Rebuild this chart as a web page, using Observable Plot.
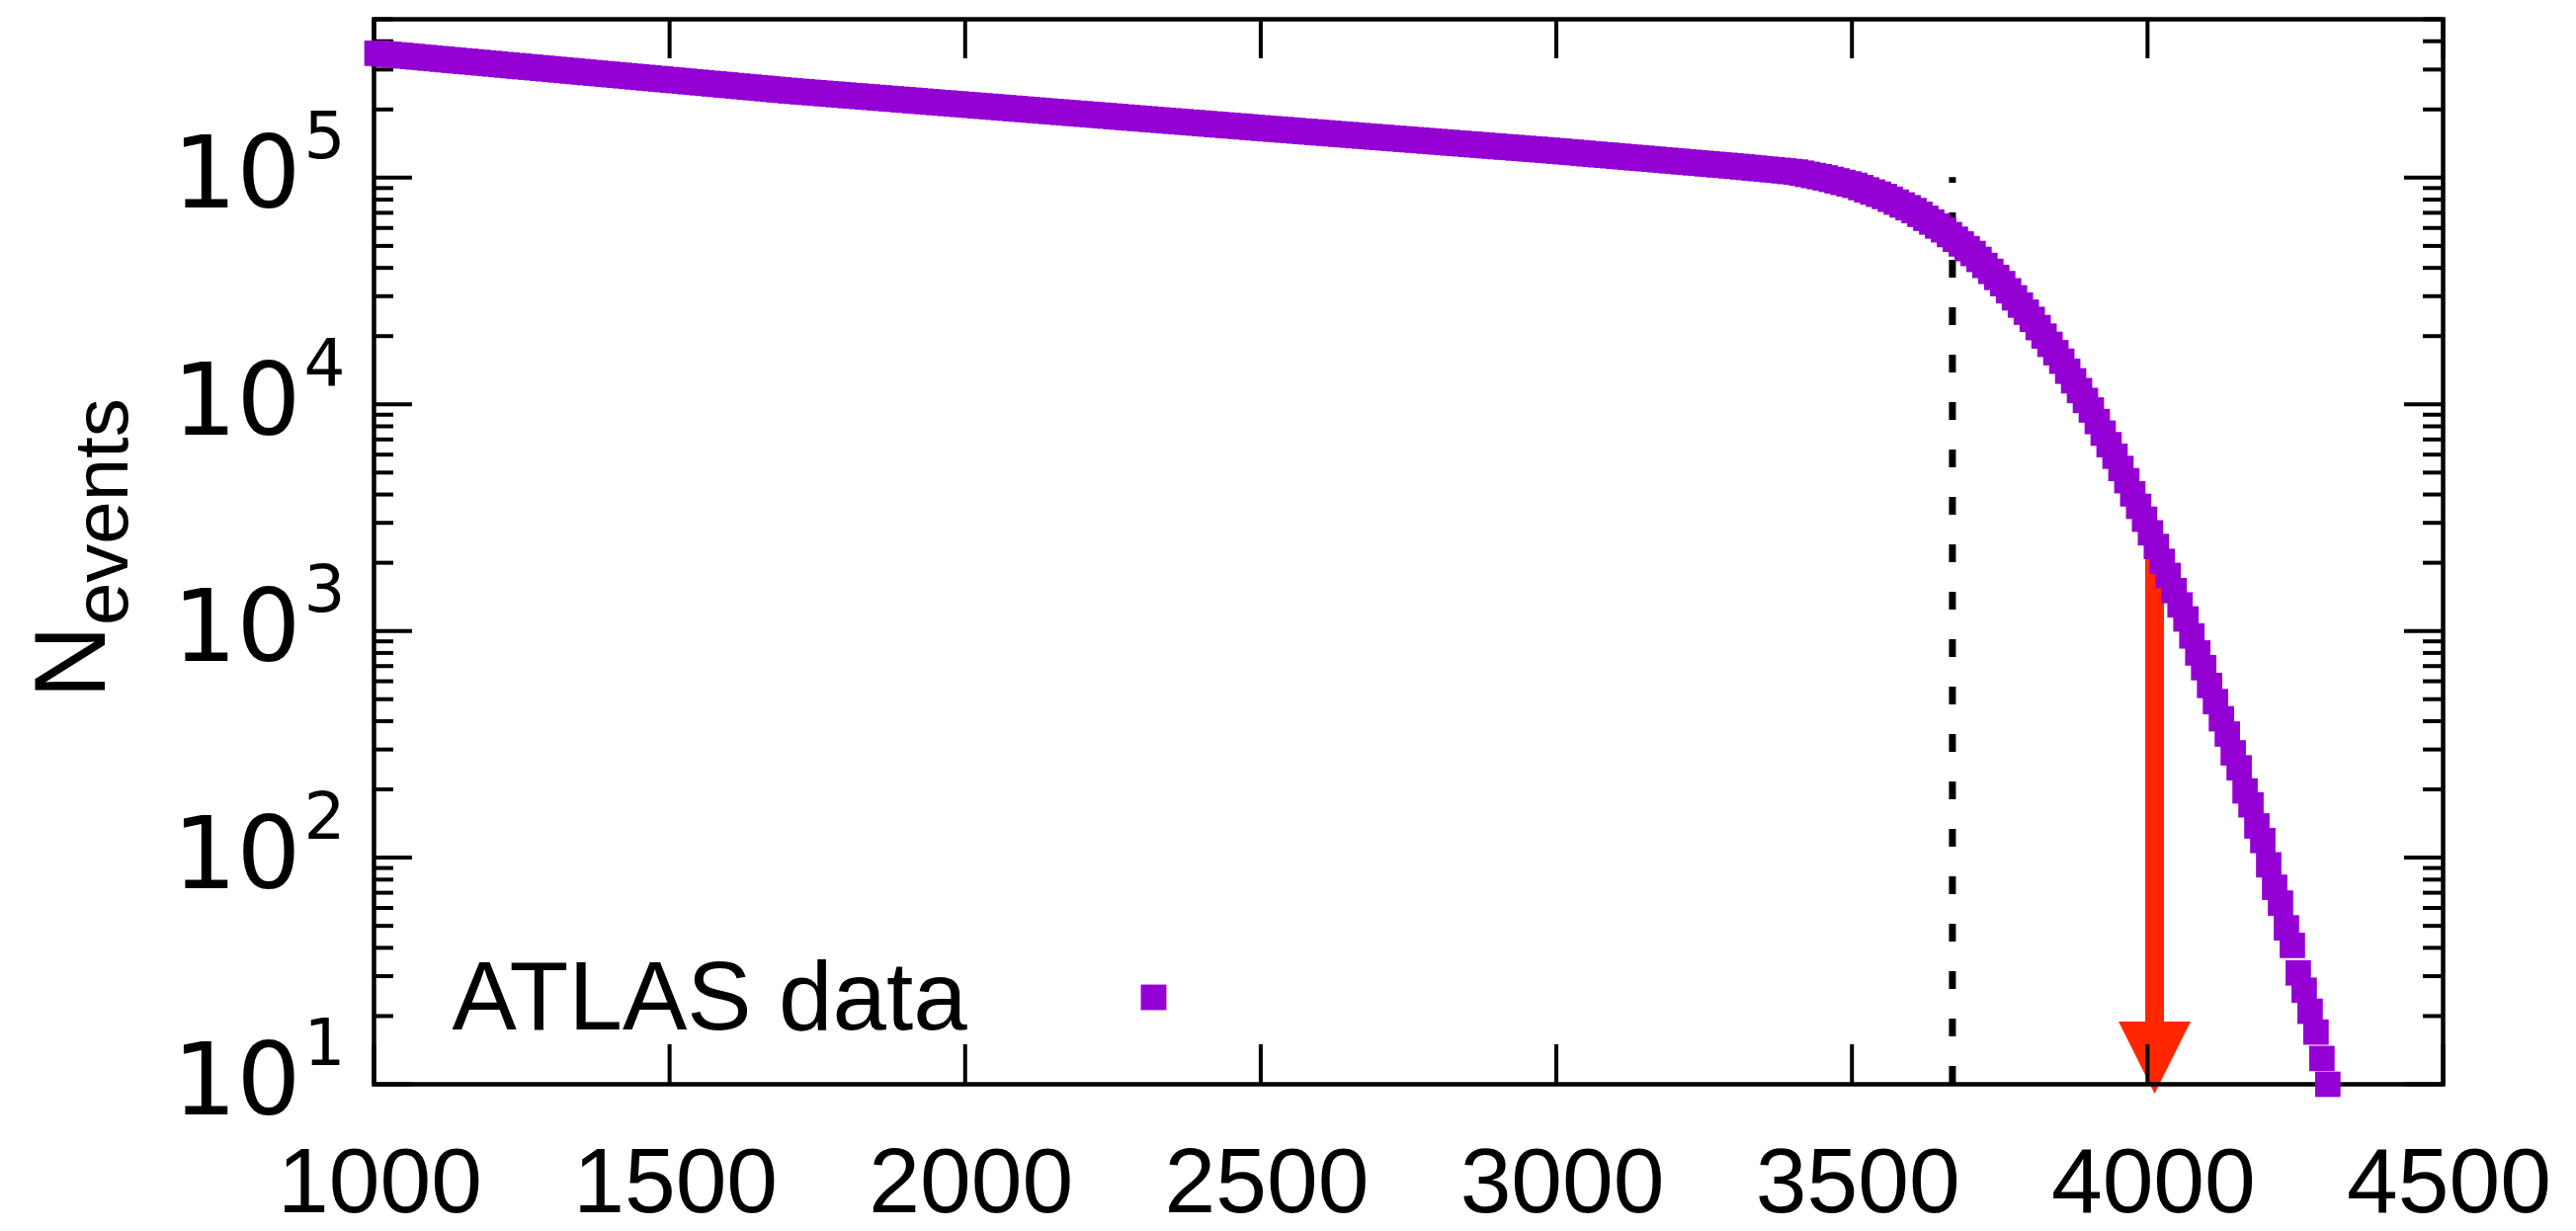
<!DOCTYPE html>
<html>
<head>
<meta charset="utf-8">
<script src="https://cdn.jsdelivr.net/npm/d3@7"></script>
<script src="https://cdn.jsdelivr.net/npm/@observablehq/plot@0.6"></script>
<style>
  html, body { margin: 0; padding: 0; background: #ffffff; }
  #chart svg { display: block; }
</style>
</head>
<body>
<div id="chart"></div>
<script>
// ---- data ----
// bin centres of the mass threshold (GeV), 10 GeV bins from 1005 to 4305
const binCenters = d3.range(1005, 4306, 10);
// number of events per bin centre
const nEvents = [
  354000, 352100, 350200, 348200, 346400, 344500, 342600, 340700, 338900, 337000,
  335200, 333400, 331500, 329700, 327900, 326200, 324400, 322600, 320900, 319100,
  317400, 315600, 313900, 312200, 310500, 308800, 307100, 305500, 303800, 302200,
  300500, 298900, 297200, 295600, 294000, 292400, 290800, 289200, 287700, 286100,
  284500, 283000, 281500, 279900, 278400, 276900, 275400, 273900, 272400, 270900,
  269400, 268000, 266500, 265000, 263600, 262200, 260700, 259300, 257900, 256500,
  255100, 253700, 252300, 251000, 249600, 248200, 246900, 245500, 244200, 242900,
  241500,
  240400, 239300, 238100, 237000, 235900, 234800, 233700, 232500, 231400, 230300,
  229300, 228200, 227100, 226000, 224900, 223900, 222800, 221800, 220700, 219700,
  218600, 217600, 216600, 215500, 214500, 213500, 212500, 211500, 210500, 209500,
  208500, 207500, 206500, 205500, 204600, 203600, 202600, 201700, 200700, 199800,
  198800, 197900, 196900, 196000, 195100, 194100, 193200, 192300, 191400, 190500,
  189600, 188700, 187800, 186900, 186000, 185100, 184300, 183400, 182500, 181700,
  180800, 179900, 179100, 178200, 177400, 176600, 175700, 174900, 174100, 173200,
  172400, 171600, 170800, 170000, 169200, 168400, 167600, 166800, 166000, 165200,
  164400, 163700, 162900, 162200, 161400, 160600, 159900, 159200, 158400, 157700,
  157000, 156200, 155500, 154800, 154100, 153300, 152600, 151900, 151200, 150500,
  149800, 149100, 148400, 147700, 147100, 146400, 145700, 145000, 144300, 143700,
  143000, 142300, 141700, 141000, 140400, 139700, 139100, 138400, 137800, 137100,
  136500, 135900, 135200, 134600, 134000, 133400, 132800, 132100, 131500,
  130900, 130200, 129500, 128900, 128200, 127500, 126900, 126200, 125600, 125000,
  124300, 123700, 123000, 122400, 121800, 121200, 120600, 119900, 119300, 118700,
  118100, 117500, 116900, 116300, 115700, 115100, 114500, 113900, 113400, 112800,
  112200,
  111600, 110900, 110300, 109600, 109000, 108400, 107800, 107200, 106500, 105900,
  104700, 103400, 102200, 101000, 99800, 98300, 96800, 95300, 93900, 92500,
  90400, 88400, 86400, 84500, 82600, 80300, 78000, 75800, 73700, 71600,
  68900, 66200, 63700, 61200, 58900, 56100, 53500, 51000, 48600, 46300,
  43600, 41000, 38600, 36300, 34100, 31700, 29500, 27400, 25500, 23700,
  21800, 20000, 18400, 16900, 15500, 14000, 12700, 11500, 10400, 9441,
  8395, 7464, 6637, 5902,
  5212, 4603, 4027, 3548, 3112, 2710, 2360, 2028, 1758, 1507,
  1303, 1130, 951, 800, 689, 575, 488, 410, 351, 290,
  249, 197, 171, 138, 119, 93, 74, 63, 49, 41,
  31, 26, 21, 17, 13, 10
];
const xTicks = [1000, 1500, 2000, 2500, 3000, 3500, 4000, 4500];
const yMajor = [10, 100, 1000, 10000, 100000];
const yMinor = [
  20, 30, 40, 50, 60, 70, 80, 90,
  200, 300, 400, 500, 600, 700, 800, 900,
  2000, 3000, 4000, 5000, 6000, 7000, 8000, 9000,
  20000, 30000, 40000, 50000, 60000, 70000, 80000, 90000,
  200000, 300000, 400000, 500000
];
const cutMass = [3670];          // dashed vertical line
const cutRange = [10, 100000];    // its extent in N
const limitMass = [4012];        // red arrow position
const arrowRange = [2400, 18.8, 9.1]; // shaft top, head base, tip (N)
const legendLabel = ["ATLAS data"];
const yTitle = ["N", "events"];

// ---- layout / style ----
const W = 2607, H = 1246;
const mL = 378, mR = 135, mT = 19, mB = 149;
const frameW = W - mL - mR, frameH = H - mT - mB;
const purple = "#9400d3";
const red = "#ff2600";
const font = "'Liberation Sans', Arial, Helvetica, sans-serif";
const yLabelFont = "'DejaVu Sans', 'Liberation Sans', sans-serif";

const points = binCenters.map((m, i) => ({m, n: nEvents[i]}));

// downward triangle with its tip at the anchor point
const headSymbol = {
  draw(context) {
    context.moveTo(-36.5, -73);
    context.lineTo(36.5, -73);
    context.lineTo(0, 0);
    context.closePath();
  }
};

const tickStyle = {stroke: "black", strokeWidth: 4};

const plot = Plot.plot({
  width: W,
  height: H,
  marginLeft: mL,
  marginRight: mR,
  marginTop: mT,
  marginBottom: mB,
  style: {fontFamily: font, background: "white", maxWidth: "none", overflow: "visible"},
  x: {domain: [1000, 4500]},
  y: {type: "log", domain: [10, 500000]},
  marks: [
    // dashed line
    Plot.ruleX(cutMass, {y1: cutRange[0], y2: cutRange[1], stroke: "black", strokeWidth: 7, strokeDasharray: "18,30"}),
    // red arrow
    Plot.ruleX(limitMass, {y1: arrowRange[0], y2: arrowRange[1], stroke: red, strokeWidth: 19}),
    Plot.dot(limitMass, {x: d => d, y: arrowRange[2], symbol: headSymbol, fill: red}),
    // frame
    Plot.frame({stroke: "black", strokeWidth: 4.5}),
    // inward ticks on all four sides
    Plot.ruleX(xTicks, {insetTop: frameH - 40, ...tickStyle}),
    Plot.ruleX(xTicks, {insetBottom: frameH - 40, ...tickStyle}),
    Plot.ruleY(yMajor, {insetRight: frameW - 39, ...tickStyle}),
    Plot.ruleY(yMajor, {insetLeft: frameW - 39, ...tickStyle}),
    Plot.ruleY(yMinor, {insetRight: frameW - 20, ...tickStyle}),
    Plot.ruleY(yMinor, {insetLeft: frameW - 20, ...tickStyle}),
    // axis labels
    Plot.axisX({ticks: xTicks, tickSize: 0, tickPadding: 63, fontSize: 93, dx: 6, label: null, tickFormat: d => String(d)}),
    Plot.axisY({ticks: yMajor, tickSize: 0, tickPadding: 29, fontSize: 102, fontFamily: yLabelFont, label: null, dy: -2,
      tickFormat: d => "10^" + Math.round(Math.log10(d))}),
    // data
    Plot.dot(points, {x: "m", y: "n", symbol: "square", r: 14.5, fill: purple}),
    // legend (inside the frame)
    Plot.text(legendLabel, {frameAnchor: "bottom-left", lineAnchor: "middle", dx: 79, dy: -87, textAnchor: "start", fontSize: 98, fill: "black"}),
    Plot.dot([0], {frameAnchor: "bottom-left", dx: 789, dy: -88, symbol: "square", r: 14.6, fill: purple})
  ]
});

document.getElementById("chart").appendChild(plot);

// superscripts on the y tick labels
const svg = d3.select(plot.tagName.toLowerCase() === "svg" ? plot : plot.querySelector("svg"));
svg.selectAll('[aria-label="y-axis tick label"] text').each(function() {
  const s = this.textContent;
  const [base, exp] = s.split("^");
  this.textContent = "";
  const t = d3.select(this);
  t.append("tspan").text(base);
  t.append("tspan").attr("font-size", 66).attr("dx", 3).attr("dy", -50).text(exp);
});

// y axis title with subscript
const title = svg.append("text")
  .attr("transform", "translate(106,555) rotate(-90)")
  .attr("text-anchor", "middle")
  .attr("font-family", font)
  .attr("font-size", 102)
  .attr("fill", "black");
title.append("tspan").text(yTitle[0]);
title.append("tspan").attr("font-size", 78).attr("dy", 23).text(yTitle[1]);
</script>
</body>
</html>
